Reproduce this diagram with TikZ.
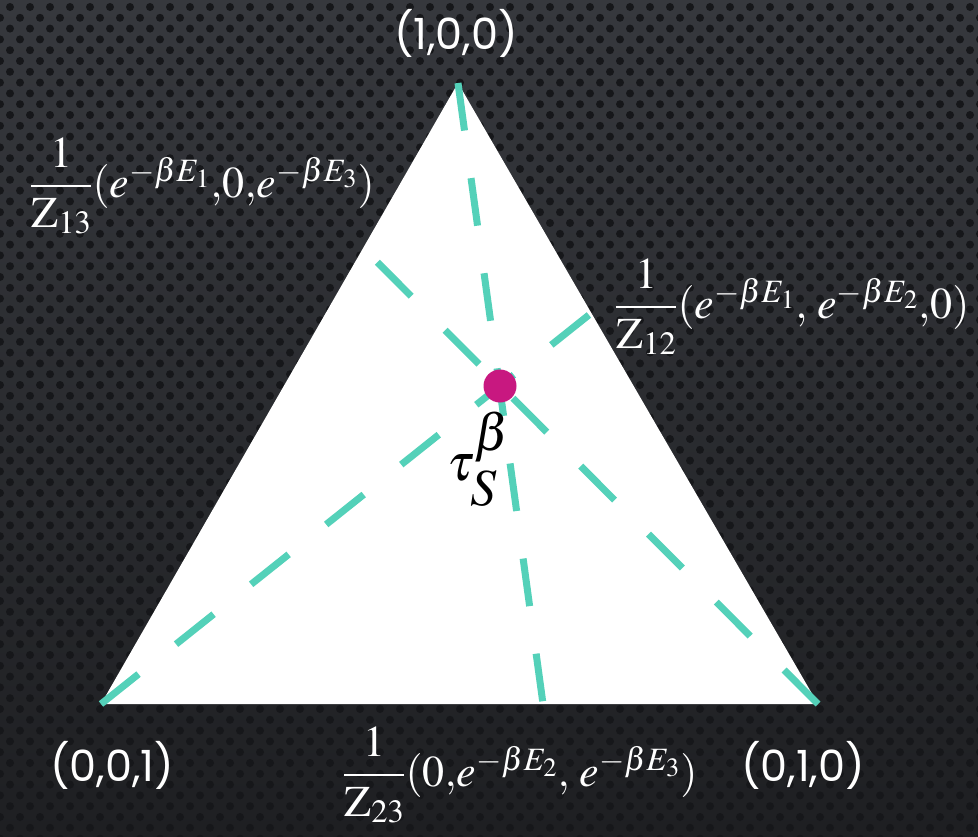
\documentclass[tikz,border=0pt]{standalone}
\usepackage{amsmath}
\usepackage{mathptmx}
\usepackage[no-math]{fontspec}
\newfontfamily\gothic{Poppins}
\usetikzlibrary{calc}
\definecolor{bgtop}{RGB}{54,56,61}
\definecolor{bgbot}{RGB}{30,31,34}
\definecolor{dotc}{RGB}{22,23,26}
\definecolor{aqualine}{RGB}{84,209,185}
\definecolor{magdot}{RGB}{200,24,128}
\tikzset{
  dashln/.style={aqualine, line width=7pt, dash pattern=on 48pt off 48pt, line cap=butt},
  vlabel/.style={white, font=\gothic\fontsize{43}{50}\selectfont, inner sep=0pt},
  mlabel/.style={white, font=\fontsize{44}{52}\selectfont, inner sep=0pt, anchor=base west},
}
\begin{document}
\begin{tikzpicture}[x=1pt,y=-1pt]
\useasboundingbox (0,0) rectangle (978,836);
\shade[top color=bgtop, bottom color=bgbot] (0,0) rectangle (978,836);
\foreach \r in {0,...,78} {
  \pgfmathsetmacro\xo{10*(1-mod(\r,2))}
  \pgfmathsetmacro\yo{7+10.8*\r}
  \fill[dotc] \foreach \c in {0,...,49} { ({\xo+20*\c},\yo) circle[radius=4] };
}
% triangle
\coordinate (A) at (458,83);
\coordinate (B) at (101,704);
\coordinate (C) at (818,704);
\fill[white] (A) -- (B) -- (C) -- cycle;
\coordinate (P12) at ($(A)!0.3704!(C)$);
\coordinate (P13) at ($(A)!0.2657!(B)$);
\coordinate (P23) at ($(B)!0.6165!(C)$);
\draw[dashln] (A) -- (P23);
\draw[dashln] (B) -- (P12);
\draw[dashln] (C) -- (P13);
\node[circle, fill=magdot, minimum size=33pt, inner sep=0pt] (tau) at (500,386) {};
\node[inner sep=0pt, font=\fontsize{52}{60}\selectfont] (taulab) at (479,459) {$\tau^{\raisebox{6pt}{$\textstyle\beta$}}_{\raisebox{-3pt}{$\textstyle S$}}$};
% vertex labels
\node[vlabel] (v100) at (456,33) {(1,0,0)};
\node[vlabel] (v001) at (112,765) {(0,0,1)};
\node[vlabel] (v010) at (803,765) {(0,1,0)};
% gibbs labels
\node[mlabel] (g13) at (30,197) {$\dfrac{1}{\mathrm{Z}_{13}}(e^{-\beta E_1}{,}0{,}e^{-\beta E_3})$};
\node[mlabel] (g12) at (615,318) {$\dfrac{1}{\mathrm{Z}_{12}}(e^{-\beta E_1}{,}\;e^{-\beta E_2}{,}0)$};
\node[mlabel] (g23) at (343,786) {$\dfrac{1}{\mathrm{Z}_{23}}(0{,}e^{-\beta E_2}{,}\;e^{-\beta E_3})$};
\end{tikzpicture}
\end{document}
